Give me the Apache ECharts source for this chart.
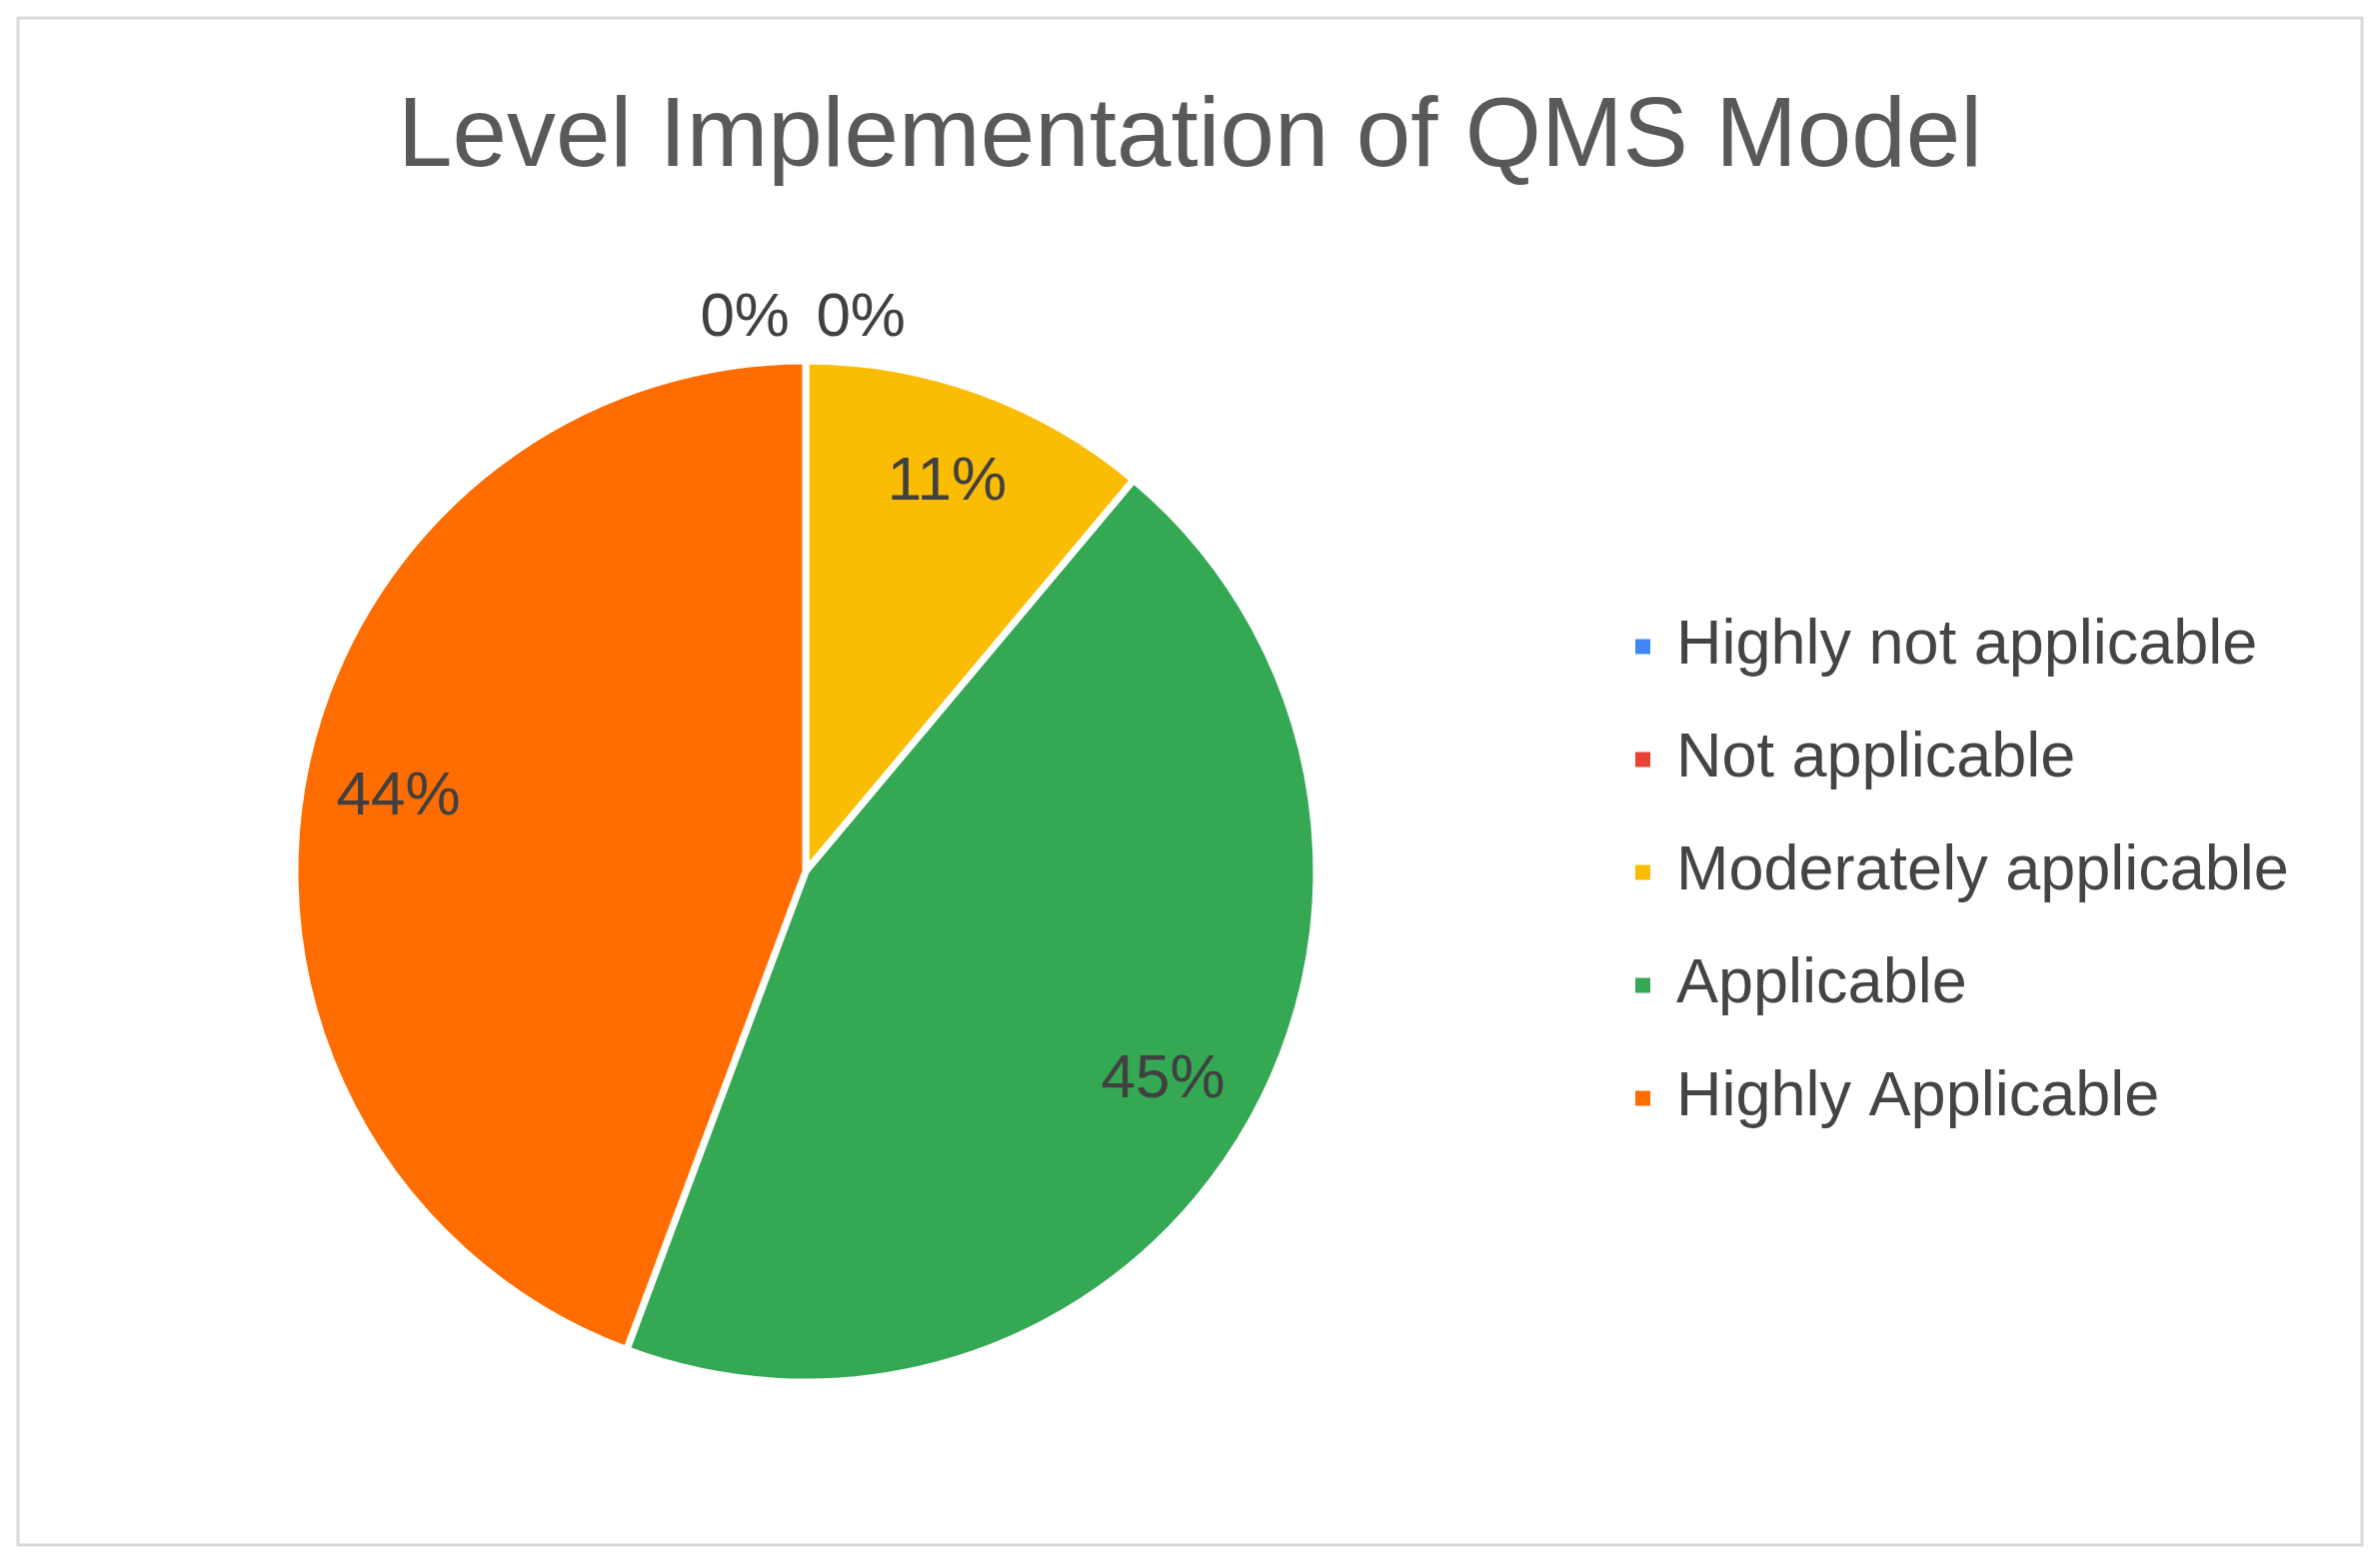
<!DOCTYPE html>
<html>
<head>
<meta charset="utf-8">
<title>Level Implementation of QMS Model</title>
<script src="https://cdn.jsdelivr.net/npm/echarts@6/dist/echarts.min.js"></script>
<style>
  html, body { margin: 0; padding: 0; background: #fff; }
  #main { width: 2381px; height: 1563px; }
</style>
</head>
<body>
<div id="main"></div>
<script>
// categories and shares (percent)
var categories = ['Highly not applicable', 'Not applicable', 'Moderately applicable', 'Applicable', 'Highly Applicable'];
var shares = [0, 0, 11.1, 44.6, 44.3];
var colors = ['#4285F4', '#EA4335', '#FBBC04', '#34A853', '#FF6D01'];

var myChart = echarts.init(document.getElementById('main'));

var pieData = categories.map(function (name, i) {
    return { name: name, value: shares[i], itemStyle: { color: colors[i] } };
});

// labels sit on a transparent ring so they land near the outer edge, like the original
var labelData = categories.map(function (name, i) {
    var item = { name: name, value: shares[i] };
    if (shares[i] === 0) {
        item.label = { position: 'outside' };
        item.labelLine = { show: false };
    }
    return item;
});
// horizontal nudge for the two 0% labels stacked at 12 o'clock
var zeroShift = [-11, 105];

var font = '"Liberation Sans", Arial, sans-serif';

var option = {
    backgroundColor: '#ffffff',
    animation: false,
    title: {
        text: 'Level Implementation of QMS Model',
        left: 'center',
        top: 90,
        padding: 0,
        textStyle: {
            fontFamily: font,
            fontSize: 98,
            fontWeight: 'normal',
            color: '#595959'
        }
    },
    legend: {
        orient: 'vertical',
        left: 1634,
        top: 612,
        padding: 0,
        itemWidth: 17,
        itemHeight: 17,
        itemGap: 43,
        icon: 'rect',
        selectedMode: false,
        data: categories,
        textStyle: {
            fontFamily: font,
            fontSize: 63,
            lineHeight: 70,
            color: '#444444',
            padding: [0, 0, 0, 20]
        }
    },
    graphic: [{
        type: 'rect',
        shape: { x: 18, y: 18, width: 2345, height: 1528 },
        style: { fill: 'none', stroke: '#d9d9d9', lineWidth: 3 },
        silent: true
    }],
    series: [
        {
            name: 'Level Implementation',
            type: 'pie',
            center: [806, 872],
            radius: [0, 511],
            startAngle: 90,
            clockwise: true,
            silent: true,
            label: { show: false },
            labelLine: { show: false },
            itemStyle: { borderColor: '#ffffff', borderWidth: 7 },
            data: pieData
        },
        {
            name: 'labels',
            type: 'pie',
            center: [806, 872],
            radius: [315, 507],
            startAngle: 90,
            clockwise: true,
            silent: true,
            avoidLabelOverlap: false,
            percentPrecision: 0,
            itemStyle: { color: 'rgba(0,0,0,0)', borderWidth: 0 },
            label: {
                show: true,
                position: 'inside',
                formatter: '{d}%',
                fontFamily: font,
                fontSize: 62,
                color: '#404040'
            },
            labelLine: { show: false, length: 0, length2: 0 },
            labelLayout: function (params) {
                if (shares[params.dataIndex] === 0) {
                    return { dx: zeroShift[params.dataIndex], dy: -46 };
                }
            },
            data: labelData
        }
    ]
};
myChart.setOption(option);
</script>
</body>
</html>
